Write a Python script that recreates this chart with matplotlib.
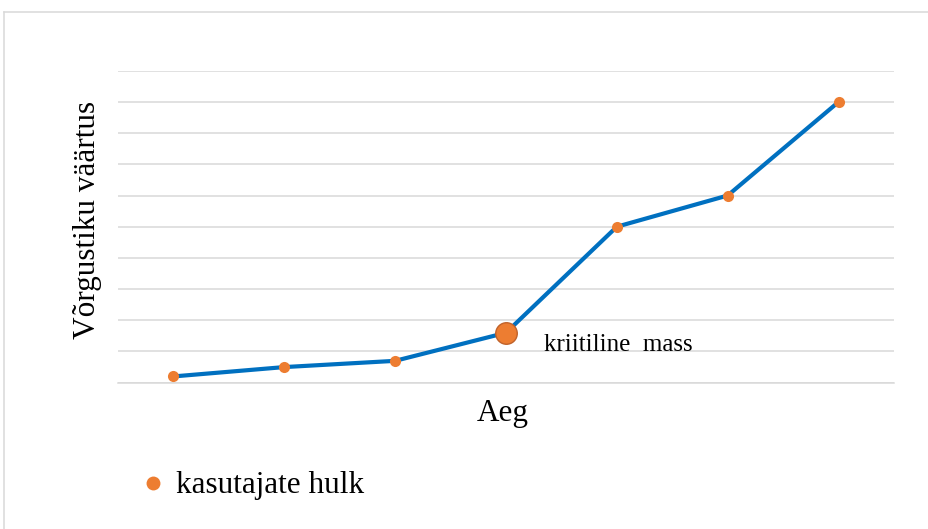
import matplotlib.pyplot as plt
from matplotlib.lines import Line2D

# data (value axis in gridline units)
periods = [1, 2, 3, 4, 5, 6, 7]
network_value = [0.2, 0.5, 0.7, 1.6, 5.0, 6.0, 9.0]
critical_idx = 3

x_label = "Aeg"
y_label = "Võrgustiku väärtus"
series_label = "kasutajate hulk"
critical_label = "kriitiline  mass"

blue = "#0070C0"
orange = "#ED7D31"
grid_gray = "#D9D9D9"

plt.rcParams['font.family'] = ['Liberation Serif', 'DejaVu Serif']

fig = plt.figure(figsize=(9.29, 5.29), dpi=100)
ax = fig.add_axes([0.127, 0.2766, 0.8353, 0.5897])

ax.plot(periods, network_value, color=blue, lw=3.0, solid_capstyle='round', zorder=2)
ax.plot(periods, network_value, 'o', color=orange, markersize=8, markeredgewidth=0,
        label=series_label, zorder=3)
# the critical mass point is drawn bigger
ax.plot(periods[critical_idx], network_value[critical_idx], 'o', color=orange,
        markersize=15.5, markeredgecolor="#C0622A", markeredgewidth=1, zorder=4)
ax.annotate(critical_label, (periods[critical_idx], network_value[critical_idx]),
            xytext=(38, -12), textcoords='offset pixels', fontsize=18,
            va='center', ha='left')

ax.set_xlim(0.5, 7.5)
ax.set_ylim(0, 10)
ax.set_yticks(range(0, 11))
ax.yaxis.grid(True, color=grid_gray, lw=1.1)
ax.set_axisbelow(True)
ax.tick_params(left=False, bottom=False, labelleft=False, labelbottom=False)
for side in ['top', 'right', 'left']:
    ax.spines[side].set_visible(False)
ax.spines['bottom'].set_color(grid_gray)
ax.spines['bottom'].set_linewidth(1.1)

fig.text(503 / 929, 1 - 413 / 529, x_label, fontsize=22.5, ha='center', va='center')
fig.text(88 / 929, 1 - 220 / 529, y_label, fontsize=22.5, rotation=90,
         ha='center', va='center')

fig.legend(handles=[Line2D([], [], marker='o', ls='none', color=orange,
                           markersize=10, markeredgewidth=0)],
           labels=[series_label], loc='center left',
           bbox_to_anchor=(106 / 929, 1 - 486 / 529), frameon=False,
           fontsize=22.5, handletextpad=0.15, handlelength=1.2)

# chart area border (top and left edge visible)
fig.add_artist(Line2D([4.5 / 929, 1], [1 - 12 / 529, 1 - 12 / 529],
                      color=grid_gray, lw=1.1))
fig.add_artist(Line2D([4.5 / 929, 4.5 / 929], [0, 1 - 12 / 529],
                      color=grid_gray, lw=1.1))

fig.savefig("out.png", dpi=100)
